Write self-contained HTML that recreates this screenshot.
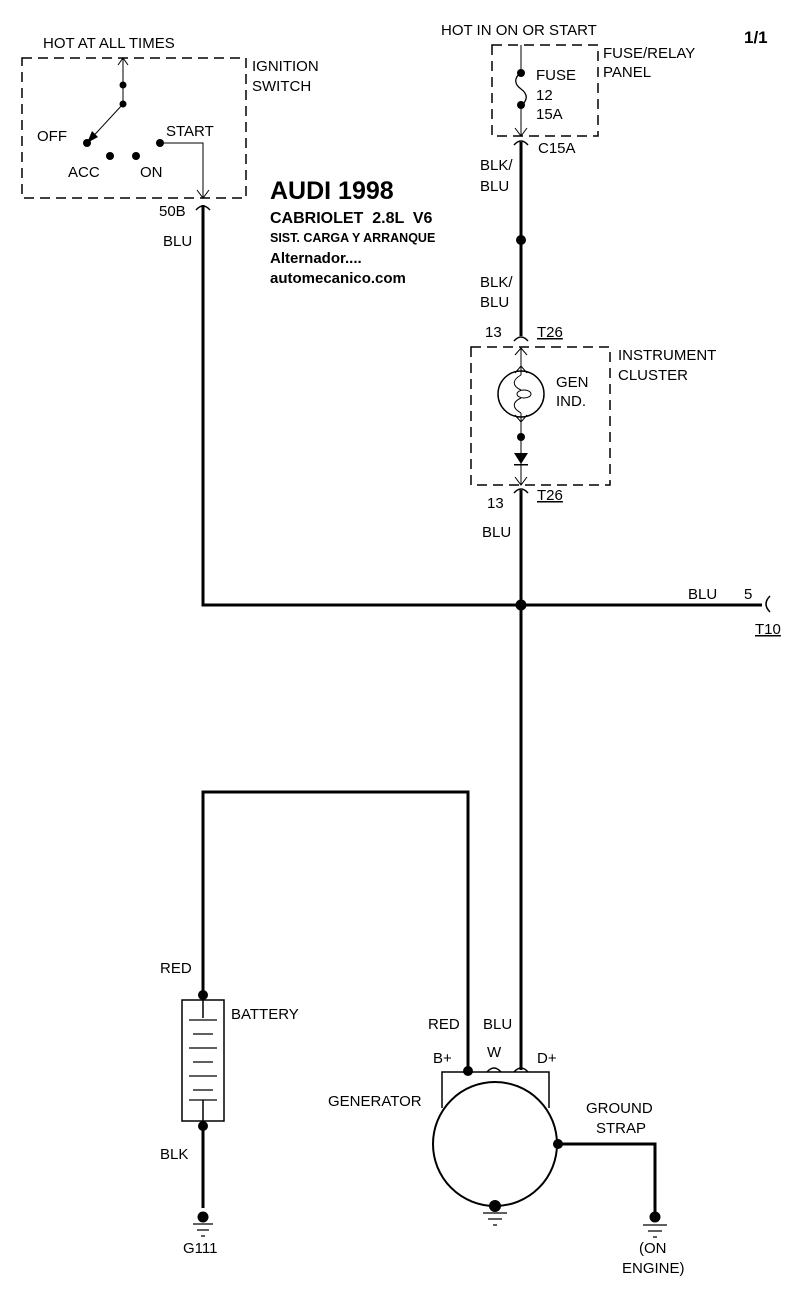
<!DOCTYPE html>
<html><head><meta charset="utf-8"><style>
html,body{margin:0;padding:0;background:#fff;}
svg{display:block;}
text{font-family:"Liberation Sans",Arial,sans-serif;font-size:15px;fill:#000;}
</style></head><body>
<svg width="800" height="1296" viewBox="0 0 800 1296" xmlns="http://www.w3.org/2000/svg">
<g fill="none" stroke="#000">
<rect x="22" y="58" width="224" height="140" stroke-width="1.5" stroke-dasharray="10,6"/>
<path d="M123 58 V104" stroke-width="1"/>
<path d="M118 65 L123 58 L128 65" stroke-width="1"/>
<path d="M123 104 L87 143" stroke-width="1"/>
<path d="M160 143 H203 V198" stroke-width="1"/>
<path d="M197 190 L203 198 L209 190" stroke-width="1"/>
<path d="M196 210 Q203 202 210 210" stroke-width="1.5"/>
<path d="M203 205 V605 H762" stroke-width="3"/>
<path d="M770 596 Q762 604 770 612" stroke-width="1.5"/>
<rect x="492" y="45" width="106" height="91" stroke-width="1.5" stroke-dasharray="10,6"/>
<path d="M521 45 V72 M521 106 V136" stroke-width="1"/>
<path d="M521 72 C514 78 514 84 521 89 C528 94 528 100 521 106" stroke-width="1.3"/>
<path d="M515 128 L521 136 L527 128" stroke-width="1"/>
<path d="M514 145 Q521 137 528 145" stroke-width="1.5"/>
<path d="M521 142 V336" stroke-width="3"/>
<path d="M514 341 Q521 333 528 341" stroke-width="1.5"/>
<rect x="471" y="347" width="139" height="138" stroke-width="1.5" stroke-dasharray="10,6"/>
<path d="M521 347 V375 M521 413 V458" stroke-width="1"/>
<path d="M515 355 L521 348 L527 355" stroke-width="1"/>
<circle cx="521" cy="394" r="23" stroke-width="1.5"/>
<path d="M515 373 L521 366 L527 373 M515 415 L521 422 L527 415" stroke-width="1"/>
<path d="M521 375 C512 380 512 386 521 390 M521 398 C512 402 512 408 521 413" stroke-width="1"/>
<ellipse cx="524" cy="394" rx="7" ry="4" stroke-width="1"/>
<path d="M521 460 V485" stroke-width="1"/>
<path d="M515 477 L521 485 L527 477" stroke-width="1"/>
<path d="M514 493 Q521 485 528 493" stroke-width="1.5"/>
<path d="M521 490 V1070" stroke-width="3"/>
<path d="M514 1072 Q521 1064 528 1072" stroke-width="1.5"/>
<path d="M487 1072 Q494 1064 501 1072" stroke-width="1.5"/>
<path d="M468 1070 V792 H203 V995" stroke-width="3"/>
<rect x="182" y="1000" width="42" height="121" stroke-width="1.5"/>
<path d="M203 1000 V1018 M203 1100 V1121" stroke-width="1.5"/>
<path d="M189 1020 H217 M193 1034 H213 M189 1048 H217 M193 1062 H213 M189 1076 H217 M193 1090 H213 M189 1100 H217" stroke-width="1.3"/>
<path d="M203 1126 V1208" stroke-width="3"/>
<path d="M193 1224 H213 M197 1230 H209 M201 1236 H205" stroke-width="1.3"/>
<path d="M442 1108 V1072 H549 V1108" stroke-width="1.5"/>
<circle cx="495" cy="1144" r="62" stroke-width="2"/>
<path d="M483 1213 H507 M488 1219 H502 M493 1225 H497" stroke-width="1.3"/>
<path d="M558 1144 H655 V1212" stroke-width="3"/>
<path d="M643 1225 H667 M648 1231 H662 M653 1237 H657" stroke-width="1.3"/>
</g>
<g fill="#000">
<circle cx="123" cy="85" r="3.5"/><circle cx="123" cy="104" r="3.5"/>
<circle cx="87" cy="143" r="4"/><circle cx="110" cy="156" r="4"/><circle cx="136" cy="156" r="4"/><circle cx="160" cy="143" r="4"/>
<path d="M87 143 L92 131 L98 137 Z"/>
<circle cx="521" cy="73" r="4"/><circle cx="521" cy="105" r="4"/>
<circle cx="521" cy="240" r="5"/>
<circle cx="521" cy="437" r="4"/>
<path d="M514 453 H528 L521 464 Z"/><rect x="514" y="464" width="14" height="1.5"/>
<circle cx="521" cy="605" r="5.5"/>
<circle cx="203" cy="995" r="5"/><circle cx="203" cy="1126" r="5"/>
<circle cx="203" cy="1217" r="5.5"/>
<circle cx="468" cy="1071" r="5"/>
<circle cx="558" cy="1144" r="5"/>
<circle cx="495" cy="1206" r="6"/>
<circle cx="655" cy="1217" r="5.5"/>
</g>
<g>
<text x="43" y="48">HOT AT ALL TIMES</text>
<text x="252" y="71">IGNITION</text><text x="252" y="91">SWITCH</text>
<text x="37" y="141">OFF</text><text x="166" y="136">START</text>
<text x="68" y="177">ACC</text><text x="140" y="177">ON</text>
<text x="159" y="216">50B</text><text x="163" y="246">BLU</text>
<text x="441" y="35">HOT IN ON OR START</text>
<text x="744" y="43" style="font-weight:bold;font-size:17px">1/1</text>
<text x="603" y="58">FUSE/RELAY</text><text x="603" y="77">PANEL</text>
<text x="536" y="80">FUSE</text><text x="536" y="100">12</text><text x="536" y="119">15A</text>
<text x="538" y="153">C15A</text>
<text x="480" y="170">BLK/</text><text x="480" y="191">BLU</text>
<text x="480" y="287">BLK/</text><text x="480" y="307">BLU</text>
<text x="270" y="199" style="font-weight:bold;font-size:25px">AUDI 1998</text>
<text x="270" y="223" style="font-weight:bold;font-size:16px;white-space:pre" xml:space="preserve">CABRIOLET  2.8L  V6</text>
<text x="270" y="242" style="font-weight:bold;font-size:12.5px">SIST. CARGA Y ARRANQUE</text>
<text x="270" y="263" style="font-weight:bold;font-size:15px">Alternador....</text>
<text x="270" y="283" style="font-weight:bold;font-size:15px">automecanico.com</text>
<text x="485" y="337">13</text><text x="537" y="337" text-decoration="underline">T26</text>
<text x="618" y="360">INSTRUMENT</text><text x="618" y="380">CLUSTER</text>
<text x="556" y="387">GEN</text><text x="556" y="406">IND.</text>
<text x="487" y="508">13</text><text x="537" y="500" text-decoration="underline">T26</text>
<text x="482" y="537">BLU</text>
<text x="688" y="599">BLU</text><text x="744" y="599">5</text>
<text x="755" y="634" text-decoration="underline">T10</text>
<text x="160" y="973">RED</text>
<text x="231" y="1019">BATTERY</text>
<text x="160" y="1159">BLK</text>
<text x="183" y="1253">G111</text>
<text x="428" y="1029">RED</text><text x="483" y="1029">BLU</text>
<text x="433" y="1063">B+</text><text x="487" y="1057">W</text><text x="537" y="1063">D+</text>
<text x="328" y="1106">GENERATOR</text>
<text x="586" y="1113">GROUND</text><text x="596" y="1133">STRAP</text>
<text x="639" y="1253">(ON</text><text x="622" y="1273">ENGINE)</text>
</g>
</svg>
</body></html>
